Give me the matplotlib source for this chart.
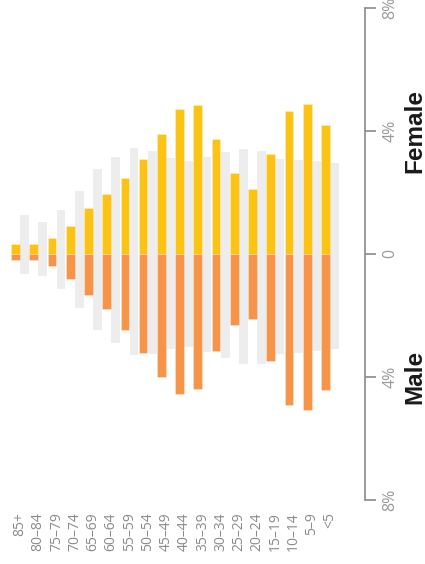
import matplotlib
matplotlib.use("Agg")
import matplotlib.pyplot as plt
import matplotlib.transforms as mtrans
import numpy as np

ages = ['85+', '80–84', '75–79', '70–74', '65–69', '60–64', '55–59', '50–54', '45–49',
        '40–44', '35–39', '30–34', '25–29', '20–24', '15–19', '10–14', '5–9', '<5']
female = [0.31, 0.31, 0.52, 0.91, 1.48, 1.93, 2.45, 3.08, 3.89, 4.70, 4.83, 3.73, 2.62, 2.09, 3.24, 4.65, 4.87, 4.19]
male = [0.20, 0.20, 0.41, 0.81, 1.33, 1.80, 2.48, 3.24, 4.00, 4.57, 4.39, 3.16, 2.32, 2.12, 3.49, 4.91, 5.07, 4.42]
female_ref = [1.26, 1.03, 1.42, 2.04, 2.75, 3.16, 3.44, 3.34, 3.11, 3.02, 3.14, 3.31, 3.41, 3.34, 3.08, 3.05, 3.02, 2.94]
male_ref = [0.66, 0.71, 1.14, 1.76, 2.47, 2.91, 3.28, 3.27, 3.11, 3.02, 3.21, 3.40, 3.60, 3.58, 3.25, 3.22, 3.16, 3.09]
tick_vals = [8, 4, 0, -4, -8]
tick_labels = ['8%', '4%', '0', '4%', '8%']

YELLOW = '#FCC314'
ORANGE = '#F6944A'
GREY = '#EDEDED'

W, H = 425, 564
fig = plt.figure(figsize=(W / 100, H / 100), dpi=100)
ax = fig.add_axes([0 / W, 64.3 / H, 364.5 / W, 492 / H])

x = np.arange(len(ages))
bw = 0.48
ax.bar(x + 0.25, female_ref, width=bw, color=GREY, linewidth=0)
ax.bar(x + 0.25, [-v for v in male_ref], width=bw, color=GREY, linewidth=0)
ax.bar(x - 0.25, female, width=bw, color=YELLOW, edgecolor=(1, 1, 1, 0.35), linewidth=0.5)
ax.bar(x - 0.25, [-v for v in male], width=bw, color=ORANGE, edgecolor=(1, 1, 1, 0.35), linewidth=0.5)

px = 18.24
xmin = -20 / px
ax.set_xlim(xmin, xmin + 364.5 / px)
ax.set_ylim(-8, 8)

for s in ['top', 'left', 'bottom']:
    ax.spines[s].set_visible(False)
ax.spines['right'].set_color('#8a8a8a')
ax.spines['right'].set_linewidth(1.2)

ax.yaxis.tick_right()
ax.set_yticks(tick_vals)
ax.set_yticklabels(tick_labels, rotation=90, va='center', ha='left')
ax.tick_params(axis='y', length=8, width=1.2, color='#8a8a8a', pad=5,
               labelsize=11.5, labelcolor='#999999')
for t in ax.get_yticklabels():
    t.set_fontfamily('Open Sans')

ax.set_xticks(x)
ax.set_xticklabels(ages, rotation=90, ha='center', va='top', fontfamily='Open Sans',
                   fontsize=10, color='#8a8a8a')
ax.tick_params(axis='x', length=0, pad=9)

trans = mtrans.blended_transform_factory(ax.transAxes, ax.transData)
ax.text(414.5 / 364.5, 4, 'Female', transform=trans, rotation=90, ha='center', va='center',
        fontsize=17.5, fontweight='bold', fontfamily='Liberation Sans', color='#1a1a1a')
ax.text(414.5 / 364.5, -4, 'Male', transform=trans, rotation=90, ha='center', va='center',
        fontsize=17.5, fontweight='bold', fontfamily='Liberation Sans', color='#1a1a1a')

fig.savefig('out.png', dpi=100)
